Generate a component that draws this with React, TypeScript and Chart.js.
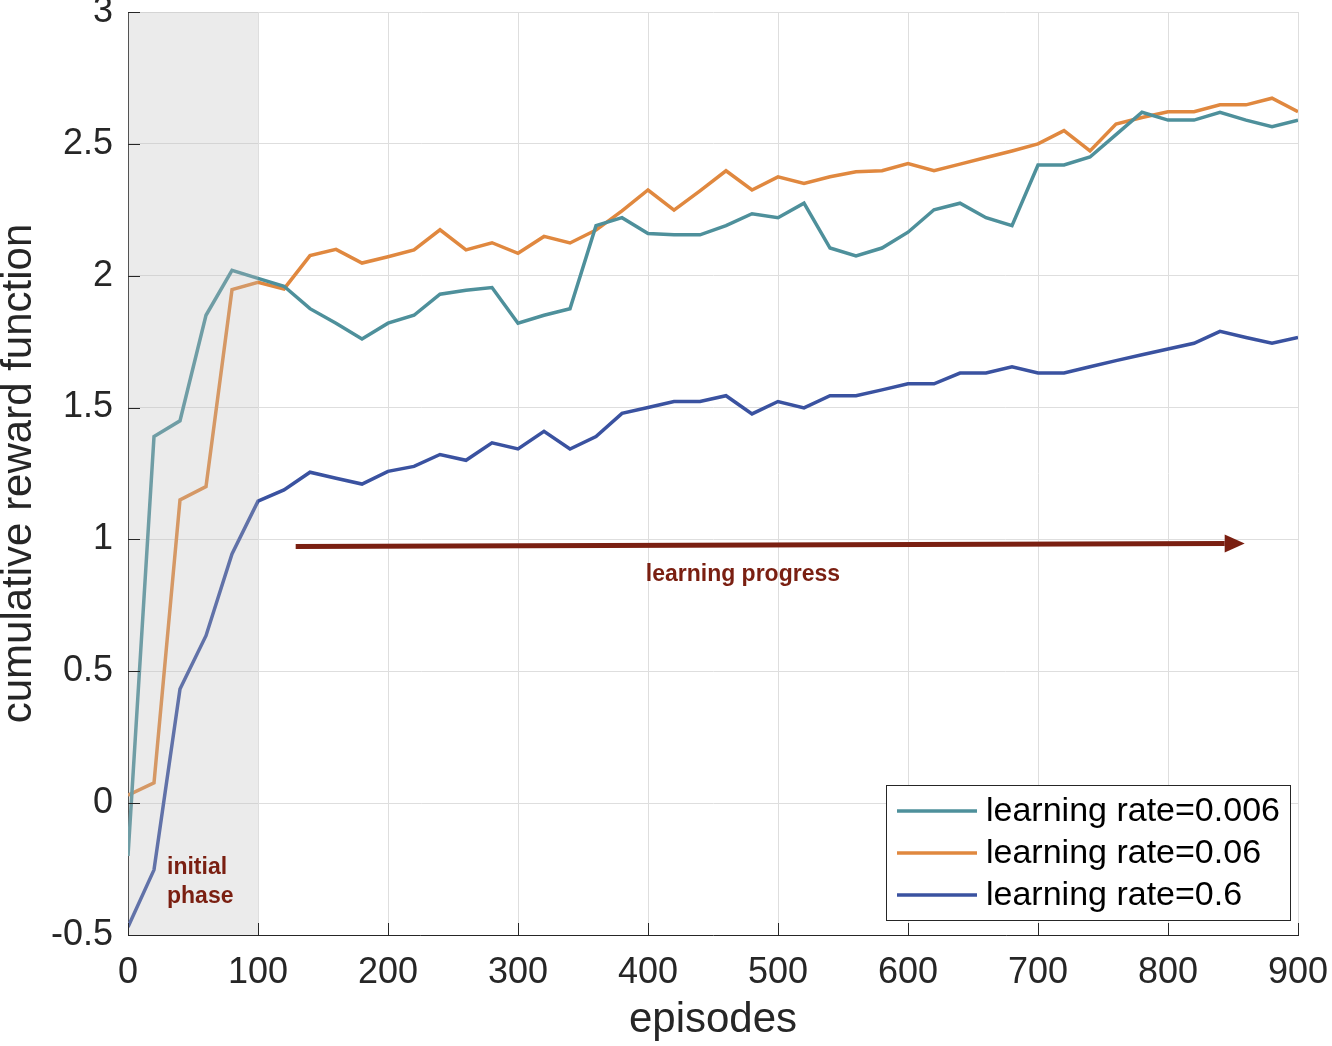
import { useEffect, useRef } from "react";
import { Chart, registerables } from "chart.js";

Chart.register(...registerables);

const episodes = [
  0, 20, 40, 60, 80, 100, 120, 140, 160, 180, 200, 220, 240, 260, 280, 300,
  320, 340, 360, 380, 400, 420, 440, 460, 480, 500, 520, 540, 560, 580, 600,
  620, 640, 660, 680, 700, 720, 740, 760, 780, 800, 820, 840, 860, 880, 900,
];

const lr0006 = [
  -0.2, 1.39, 1.45, 1.85, 2.02, 1.99, 1.96, 1.875, 1.82, 1.76, 1.82, 1.85,
  1.93, 1.945, 1.955, 1.82, 1.85, 1.875, 2.19, 2.22, 2.16, 2.155, 2.155, 2.19,
  2.235, 2.22, 2.275, 2.105, 2.075, 2.105, 2.165, 2.25, 2.275, 2.22, 2.19,
  2.42, 2.42, 2.45, 2.535, 2.62, 2.59, 2.59, 2.62, 2.59, 2.565, 2.59,
];

const lr006 = [
  0.03, 0.077, 1.15, 1.2, 1.947, 1.975, 1.95, 2.076, 2.1, 2.048, 2.072, 2.098,
  2.174, 2.098, 2.125, 2.085, 2.149, 2.124, 2.173, 2.246, 2.325, 2.249, 2.322,
  2.398, 2.325, 2.375, 2.35, 2.375, 2.394, 2.398, 2.425, 2.398, 2.423, 2.448,
  2.473, 2.5, 2.55, 2.473, 2.575, 2.6, 2.622, 2.622, 2.648, 2.648, 2.673, 2.622,
];

const lr06 = [
  -0.47, -0.253, 0.433, 0.635, 0.945, 1.145, 1.188, 1.255, 1.232, 1.21, 1.258,
  1.277, 1.322, 1.3, 1.366, 1.343, 1.41, 1.343, 1.39, 1.478, 1.5, 1.523, 1.523,
  1.545, 1.476, 1.523, 1.499, 1.545, 1.545, 1.567, 1.59, 1.59, 1.631, 1.631,
  1.655, 1.631, 1.631, 1.655, 1.678, 1.7, 1.722, 1.744, 1.789, 1.766, 1.744,
  1.766,
];

const seriesLabels = [
  "learning rate=0.006",
  "learning rate=0.06",
  "learning rate=0.6",
];
const seriesColors = ["#4e909b", "#e0883f", "#3a52a0"];

// annotations, in data units
const phaseRange = [0, 100];
const phaseText = ["initial", "phase"];
const phaseTextAt = { x: 30, y: [-0.245, -0.355] };
const arrowFrom = { x: 129, y: 0.973 };
const arrowTo = { x: 859, y: 0.985 };
const progressText = "learning progress";
const progressTextAt = { x: 473, y: 0.867 };

const FONT = "'Liberation Sans', Arial, Helvetica, sans-serif";
const DARK = "#262626";
const ANNOT = "#7a1f11";

const decorPlugin = {
  id: "decor",
  afterDatasetsDraw(chart: any) {
    const { ctx, chartArea: a, scales } = chart;
    const x = scales.x;
    const y = scales.y;
    ctx.save();

    // grey "initial phase" patch, semi-transparent over the lines
    const p0 = x.getPixelForValue(phaseRange[0]);
    const p1 = x.getPixelForValue(phaseRange[1]);
    ctx.fillStyle = "rgba(188,188,188,0.3)";
    ctx.fillRect(p0, a.top, p1 - p0, a.bottom - a.top);

    // inward tick marks (matlab style)
    ctx.strokeStyle = DARK;
    ctx.lineWidth = 1;
    ctx.beginPath();
    x.ticks.forEach((t: any) => {
      const px = Math.round(x.getPixelForValue(t.value)) + 0.5;
      ctx.moveTo(px, a.bottom);
      ctx.lineTo(px, a.bottom - 12);
    });
    y.ticks.forEach((t: any) => {
      const py = Math.round(y.getPixelForValue(t.value)) + 0.5;
      ctx.moveTo(a.left, py);
      ctx.lineTo(a.left + 12, py);
    });
    ctx.stroke();

    // arrow
    const ax0 = x.getPixelForValue(arrowFrom.x);
    const ay0 = y.getPixelForValue(arrowFrom.y);
    const ax1 = x.getPixelForValue(arrowTo.x);
    const ay1 = y.getPixelForValue(arrowTo.y);
    const ang = Math.atan2(ay1 - ay0, ax1 - ax0);
    const headLen = 20;
    const headHalf = 9;
    const bx = ax1 - headLen * Math.cos(ang);
    const by = ay1 - headLen * Math.sin(ang);
    ctx.strokeStyle = ANNOT;
    ctx.fillStyle = ANNOT;
    ctx.lineWidth = 5;
    ctx.beginPath();
    ctx.moveTo(ax0, ay0);
    ctx.lineTo(bx, by);
    ctx.stroke();
    ctx.beginPath();
    ctx.moveTo(ax1, ay1);
    ctx.lineTo(bx - headHalf * Math.sin(ang), by + headHalf * Math.cos(ang));
    ctx.lineTo(bx + headHalf * Math.sin(ang), by - headHalf * Math.cos(ang));
    ctx.closePath();
    ctx.fill();

    // annotation texts
    ctx.font = `bold 23px ${FONT}`;
    ctx.textBaseline = "middle";
    ctx.textAlign = "center";
    ctx.fillText(
      progressText,
      x.getPixelForValue(progressTextAt.x),
      y.getPixelForValue(progressTextAt.y)
    );
    ctx.textAlign = "left";
    phaseText.forEach((s, i) => {
      ctx.fillText(
        s,
        x.getPixelForValue(phaseTextAt.x),
        y.getPixelForValue(phaseTextAt.y[i])
      );
    });

    // legend box
    const lx0 = a.right - 412;
    const lx1 = a.right - 8;
    const ly0 = a.bottom - 150;
    const ly1 = a.bottom - 15;
    ctx.fillStyle = "#ffffff";
    ctx.fillRect(lx0, ly0, lx1 - lx0, ly1 - ly0);
    ctx.strokeStyle = DARK;
    ctx.lineWidth = 1;
    ctx.strokeRect(lx0 + 0.5, ly0 + 0.5, lx1 - lx0, ly1 - ly0);
    ctx.font = `34px ${FONT}`;
    ctx.textAlign = "left";
    ctx.textBaseline = "middle";
    seriesLabels.forEach((label, i) => {
      const ry = ly0 + 26 + i * 42;
      ctx.strokeStyle = seriesColors[i];
      ctx.lineWidth = 3.5;
      ctx.beginPath();
      ctx.moveTo(lx0 + 11, ry);
      ctx.lineTo(lx0 + 91, ry);
      ctx.stroke();
      ctx.fillStyle = "#000000";
      ctx.fillText(label, lx0 + 100, ry + 1);
    });

    ctx.restore();
  },
};

function App() {
  const canvasRef = useRef<HTMLCanvasElement | null>(null);
  const chartRef = useRef<Chart | null>(null);

  useEffect(() => {
    document.body.style.margin = "0";
    if (!canvasRef.current) return;
    if (chartRef.current) chartRef.current.destroy();

    const series = [lr0006, lr006, lr06];

    chartRef.current = new Chart(canvasRef.current, {
      type: "line",
      data: {
        datasets: series.map((vals, i) => ({
          label: seriesLabels[i],
          data: episodes.map((ep, j) => ({ x: ep, y: vals[j] })),
          borderColor: seriesColors[i],
          backgroundColor: seriesColors[i],
          borderWidth: 3.5,
          pointRadius: 0,
          tension: 0,
          fill: false,
        })),
      },
      options: {
        animation: false,
        responsive: true,
        maintainAspectRatio: false,
        layout: { padding: { left: 0, right: 34, top: 12, bottom: 0 } },
        plugins: {
          legend: { display: false },
          tooltip: { enabled: false },
        },
        scales: {
          x: {
            type: "linear",
            min: 0,
            max: 900,
            afterFit: (s: any) => {
              s.height = 111;
              s.paddingLeft = 0;
              s.paddingRight = 0;
            },
            ticks: {
              stepSize: 100,
              padding: 16,
              color: DARK,
              font: { family: FONT, size: 36 },
              maxRotation: 0,
              callback: (v: any) => String(v),
            },
            grid: { color: "#dedede", lineWidth: 1, drawTicks: false },
            border: { display: true, color: DARK, width: 1 },
            title: {
              display: true,
              text: "episodes",
              color: DARK,
              font: { family: FONT, size: 42 },
              padding: { top: 0, bottom: 0 },
            },
          },
          y: {
            type: "linear",
            min: -0.5,
            max: 3,
            afterFit: (s: any) => {
              s.width = 128;
              s.paddingTop = 0;
              s.paddingBottom = 0;
            },
            ticks: {
              stepSize: 0.5,
              padding: 15,
              color: DARK,
              font: { family: FONT, size: 36 },
              callback: (v: any) => String(v),
            },
            grid: { color: "#dedede", lineWidth: 1, drawTicks: false },
            border: { display: true, color: DARK, width: 1 },
            title: {
              display: true,
              text: "cumulative reward function",
              color: DARK,
              font: { family: FONT, size: 42 },
              padding: { top: -6, bottom: 0 },
            },
          },
        },
      },
      plugins: [decorPlugin],
    });

    return () => {
      chartRef.current?.destroy();
      chartRef.current = null;
    };
  }, []);

  return (
    <div style={{ width: 1332, height: 1046, position: "relative" }}>
      <canvas ref={canvasRef}></canvas>
    </div>
  );
}

export default App;
